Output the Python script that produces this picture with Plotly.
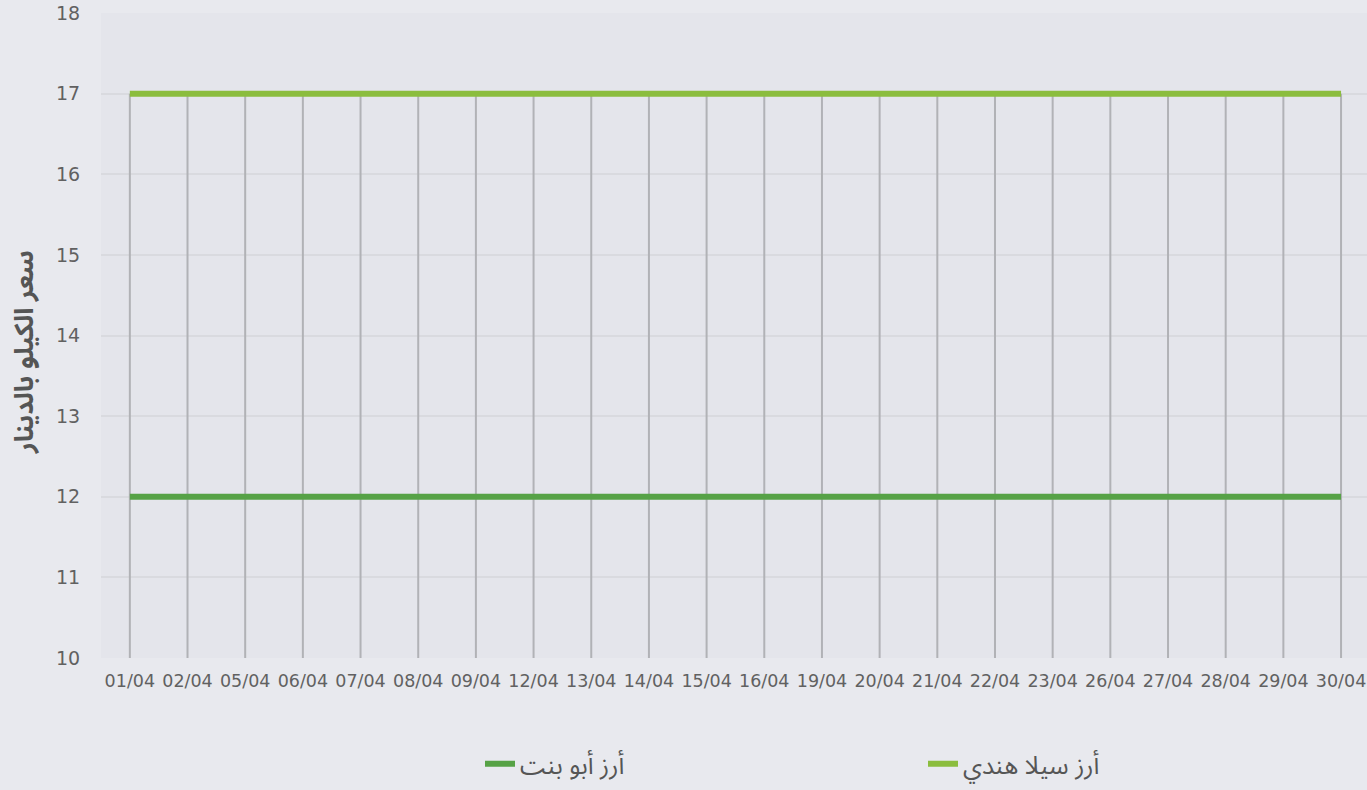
import plotly.graph_objects as go

dates = ["01/04", "02/04", "05/04", "06/04", "07/04", "08/04", "09/04", "12/04",
         "13/04", "14/04", "15/04", "16/04", "19/04", "20/04", "21/04", "22/04",
         "23/04", "26/04", "27/04", "28/04", "29/04", "30/04"]
abu_bint = [12] * len(dates)
sella_hindi = [17] * len(dates)
series_names = ["أرز أبو بنت", "أرز سيلا هندي"]
y_title = "سعر الكيلو بالدينار"
y_min, y_max = 10, 18

W, H = 1367, 790
ML, MR, MT, MB = 101, 0, 13, 132
arabic_font = "'Noto Sans Arabic', 'DejaVu Sans', sans-serif"
tick_font = "'DejaVu Sans', 'Noto Sans', sans-serif"

fig = go.Figure()

# vertical drop lines from the highest value at each date down to the axis
vx, vy = [], []
for i, d in enumerate(dates):
    top = max(abu_bint[i], sella_hindi[i])
    vx += [d, d, None]
    vy += [y_min, top, None]
fig.add_trace(go.Scatter(x=vx, y=vy, mode="lines", line=dict(color="#b1b2b6", width=2),
                         hoverinfo="skip", showlegend=False))

fig.add_trace(go.Scatter(x=dates, y=abu_bint, name=series_names[0], mode="lines",
                         line=dict(color="#56a246", width=6), legend="legend"))
fig.add_trace(go.Scatter(x=dates, y=sella_hindi, name=series_names[1], mode="lines",
                         line=dict(color="#8bbd3e", width=6), legend="legend2"))

legend_common = dict(orientation="h", xref="container", yref="container",
                     yanchor="middle", xanchor="left",
                     font=dict(size=25, color="#555555", family=arabic_font),
                     bgcolor="rgba(0,0,0,0)")

plot_w = W - ML - MR
plot_h = H - MT - MB

fig.update_layout(
    width=W, height=H,
    margin=dict(l=ML, r=MR, t=MT, b=MB),
    paper_bgcolor="#e8e9ee",
    plot_bgcolor="#e4e5eb",
    font=dict(family=tick_font, color="#666666"),
    xaxis=dict(type="category", range=[-0.5, 21.45], showgrid=False, zeroline=False,
               tickfont=dict(size=17.5, color="#616161", family=tick_font),
               ticks="outside", ticklen=7, tickcolor="rgba(0,0,0,0)", showline=False),
    yaxis=dict(range=[y_min, y_max], dtick=1, showgrid=True, gridcolor="#d9dadf",
               gridwidth=1.5, zeroline=False, showline=False,
               tickfont=dict(size=19, color="#616161", family=tick_font),
               ticklabeloverflow="allow",
               ticks="outside", ticklen=16, tickcolor="rgba(0,0,0,0)"),
    legend=dict(x=480 / W, y=1 - 764 / H, **legend_common),
    legend2=dict(x=923 / W, y=1 - 764 / H, **legend_common),
    showlegend=True,
    annotations=[dict(text=y_title, textangle=-90, showarrow=False,
                      xref="paper", yref="paper", borderpad=0,
                      x=(24 - ML) / plot_w, y=(H - MB - 352) / plot_h,
                      xanchor="center", yanchor="middle",
                      font=dict(size=26, color="#555555", family=arabic_font, weight="bold"))],
)

fig.write_html("out.html", config={"displayModeBar": False},
               post_script="document.body.style.margin='0';document.body.style.background='#e8e9ee';")
